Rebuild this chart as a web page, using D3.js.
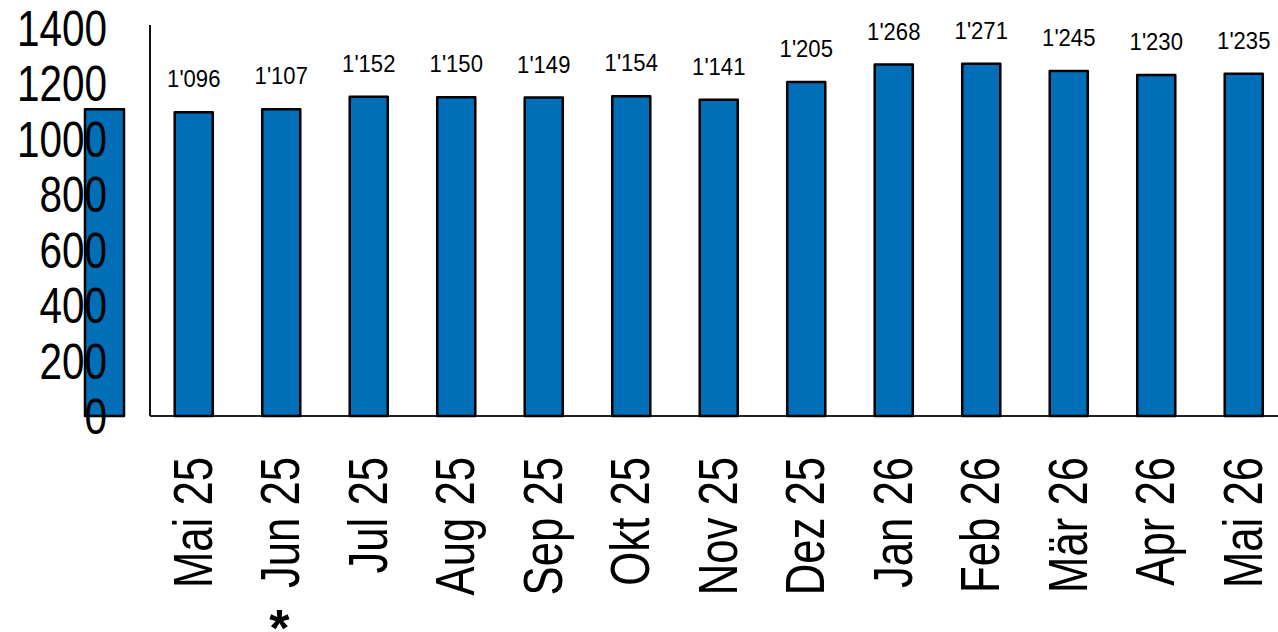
<!DOCTYPE html>
<html lang="de">
<head>
<meta charset="utf-8">
<title>Monatswerte</title>
<script src="https://cdn.jsdelivr.net/npm/d3@7"></script>
<style>
    body { margin: 0; background: #fff; }
    svg { display: block; font-family: "Liberation Sans", Arial, sans-serif; }
</style>
</head>
<body>
<script>
    // data
    var months = ["Mai 25", "Jun 25", "Jul 25", "Aug 25", "Sep 25", "Okt 25", "Nov 25",
                  "Dez 25", "Jan 26", "Feb 26", "Mär 26", "Apr 26", "Mai 26"];
    var values = [1096, 1107, 1152, 1150, 1149, 1154, 1141, 1205, 1268, 1271, 1245, 1230, 1235];
    var valueLabels = ["1'096", "1'107", "1'152", "1'150", "1'149", "1'154", "1'141",
                       "1'205", "1'268", "1'271", "1'245", "1'230", "1'235"];
    var yTicks = [0, 200, 400, 600, 800, 1000, 1200, 1400];
    var strayBar = [1107];      // the lone bar sitting behind the y labels
    var footnoteMonth = "Jun 25";

    var width = 1278, height = 632;
    var left = 150, baseY = 416, topY = 28;
    var blue = "#006fb8";

    var svg = d3.select("body").append("svg")
        .attr("width", width)
        .attr("height", height);

    var x = d3.scaleBand()
        .domain(months)
        .range([left, left + 87.5 * months.length])
        .paddingInner(0.565)
        .paddingOuter(0.2825);

    var y = d3.scaleLinear()
        .domain([0, 1400])
        .range([baseY, topY]);

    // stray bar left of the axis
    svg.selectAll(".stray")
        .data(strayBar)
        .join("rect")
        .attr("class", "stray")
        .attr("x", left - 65)
        .attr("width", 39)
        .attr("y", d => y(d))
        .attr("height", d => baseY - y(d))
        .attr("fill", blue)
        .attr("stroke", "#000")
        .attr("stroke-width", 2.5)
        .attr("stroke-linejoin", "round");

    // y labels (no axis line of their own)
    svg.selectAll(".ylab")
        .data(yTicks)
        .join("text")
        .attr("class", "ylab")
        .attr("transform", d => `translate(107,${y(d)}) scale(0.81,1)`)
        .attr("text-anchor", "end")
        .attr("dy", "0.36em")
        .attr("font-size", 50)
        .attr("fill", "#000")
        .text(d => d);

    // axes lines
    svg.append("line")
        .attr("x1", left).attr("x2", left)
        .attr("y1", 25).attr("y2", baseY)
        .attr("stroke", "#111").attr("stroke-width", 2);
    svg.append("line")
        .attr("x1", left).attr("x2", width)
        .attr("y1", baseY).attr("y2", baseY)
        .attr("stroke", "#222").attr("stroke-width", 2);

    // bars
    svg.selectAll(".bar")
        .data(values)
        .join("rect")
        .attr("class", "bar")
        .attr("x", (d, i) => x(months[i]))
        .attr("width", x.bandwidth())
        .attr("y", d => y(d))
        .attr("height", d => baseY - y(d))
        .attr("fill", blue)
        .attr("stroke", "#000")
        .attr("stroke-width", 2.5)
        .attr("stroke-linejoin", "round");

    // value labels
    svg.selectAll(".vlab")
        .data(values)
        .join("text")
        .attr("class", "vlab")
        .attr("transform", (d, i) => `translate(${x(months[i]) + x.bandwidth() / 2},${y(d) - 25}) scale(0.92,1)`)
        .attr("text-anchor", "middle")
        .attr("font-size", 24)
        .attr("fill", "#000")
        .text((d, i) => valueLabels[i]);

    // rotated month labels
    svg.selectAll(".xlab")
        .data(months)
        .join("text")
        .attr("class", "xlab")
        .attr("transform", d => `translate(${x(d) + x.bandwidth() / 2 + 18},457) rotate(-90) scale(0.78,1)`)
        .attr("text-anchor", "end")
        .attr("font-size", 56)
        .attr("fill", "#000")
        .text(d => d);

    // footnote marker under June
    svg.append("text")
        .attr("x", x(footnoteMonth) + x.bandwidth() / 2 - 2)
        .attr("y", 646)
        .attr("text-anchor", "middle")
        .attr("font-size", 52)
        .attr("font-weight", "bold")
        .attr("fill", "#000")
        .text("*");
</script>
</body>
</html>
